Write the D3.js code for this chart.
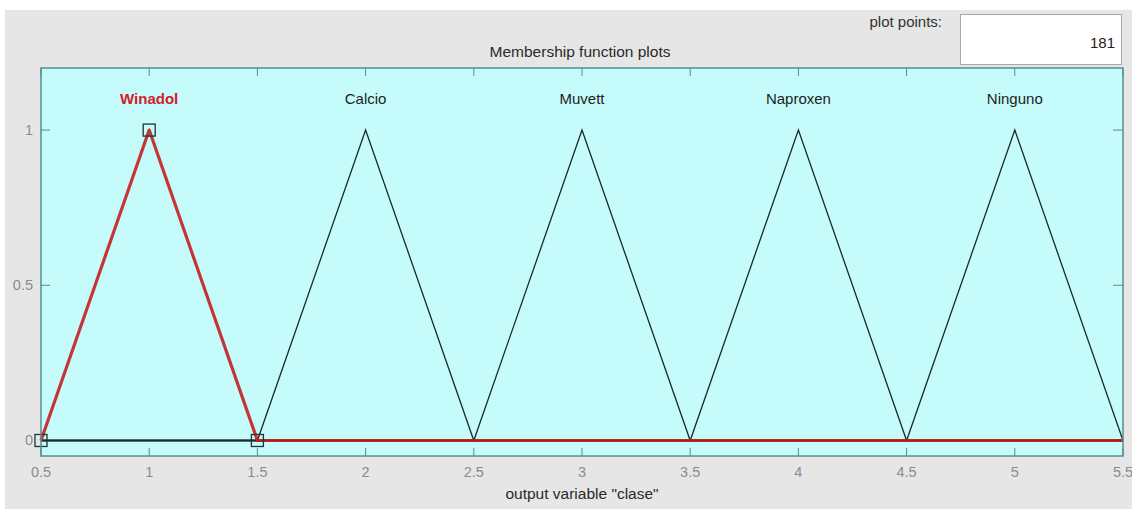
<!DOCTYPE html>
<html>
<head>
<meta charset="utf-8">
<script src="https://cdn.jsdelivr.net/npm/d3@7"></script>
<style>
  html, body { margin: 0; padding: 0; background: #fff; }
  svg { display: block; font-family: Arial, "Liberation Sans", sans-serif; }
</style>
</head>
<body>
<svg id="chart" width="1132" height="509"></svg>
<script>
// membership functions of output variable "clase" (trimf params)
const mfNames = ['Winadol', 'Calcio', 'Muvett', 'Naproxen', 'Ninguno'];
const mfParams = [[0.5, 1, 1.5], [1.5, 2, 2.5], [2.5, 3, 3.5], [3.5, 4, 4.5], [4.5, 5, 5.5]];
const selected = 0;
const xRange = [0.5, 5.5];
const yRange = [-0.05, 1.2];
const xTicks = [0.5, 1, 1.5, 2, 2.5, 3, 3.5, 4, 4.5, 5, 5.5];
const xTickLabels = ['0.5', '1', '1.5', '2', '2.5', '3', '3.5', '4', '4.5', '5', '5.5'];
const yTicks = [0, 0.5, 1];
const yTickLabels = ['0', '0.5', '1'];
const plotPoints = 181;

const axL = 41, axR = 1123, axT = 68, axB = 456;

const svg = d3.select('#chart');

// figure background
svg.append('rect')
  .attr('x', 5).attr('y', 10)
  .attr('width', 1127).attr('height', 499)
  .attr('fill', '#e6e6e6');

const x = d3.scaleLinear().domain(xRange).range([axL, axR]);
const y = d3.scaleLinear().domain(yRange).range([axB, axT]);

// plot points box
svg.append('text')
  .attr('x', 942).attr('y', 27)
  .attr('text-anchor', 'end')
  .attr('font-size', 15)
  .attr('fill', '#333')
  .text('plot points:');
svg.append('rect')
  .attr('x', 960.5).attr('y', 14.5)
  .attr('width', 161).attr('height', 50)
  .attr('fill', '#fff')
  .attr('stroke', '#a8a8a8');
svg.append('text')
  .attr('x', 1115).attr('y', 48)
  .attr('text-anchor', 'end')
  .attr('font-size', 15)
  .attr('fill', '#222')
  .text(plotPoints);

// title
svg.append('text')
  .attr('x', (axL + axR) / 2 - 2).attr('y', 57)
  .attr('text-anchor', 'middle')
  .attr('font-size', 15.5)
  .attr('fill', '#2a2a2a')
  .text('Membership function plots');

// axes background
svg.append('rect')
  .attr('x', axL).attr('y', axT)
  .attr('width', axR - axL).attr('height', axB - axT)
  .attr('fill', '#c6fbfb');

const g = svg.append('g');

// ticks (inside)
const tickColor = '#5a8c8c';
g.selectAll('line.xb').data(xTicks).enter().append('line')
  .attr('x1', d => x(d)).attr('x2', d => x(d))
  .attr('y1', axB).attr('y2', axB - 8)
  .attr('stroke', tickColor);
g.selectAll('line.xt').data(xTicks).enter().append('line')
  .attr('x1', d => x(d)).attr('x2', d => x(d))
  .attr('y1', axT).attr('y2', axT + 8)
  .attr('stroke', tickColor);
g.selectAll('line.yl').data(yTicks).enter().append('line')
  .attr('x1', axL).attr('x2', axL + 9)
  .attr('y1', d => y(d)).attr('y2', d => y(d))
  .attr('stroke', tickColor);
g.selectAll('line.yr').data(yTicks).enter().append('line')
  .attr('x1', axR).attr('x2', axR - 10)
  .attr('y1', d => y(d)).attr('y2', d => y(d))
  .attr('stroke', tickColor);

// tick labels
g.selectAll('text.xl').data(xTicks).enter().append('text')
  .attr('x', d => x(d)).attr('y', 477)
  .attr('text-anchor', 'middle')
  .attr('font-size', 14.5)
  .attr('fill', '#8c8c8c')
  .text((d, i) => xTickLabels[i]);
g.selectAll('text.yl').data(yTicks).enter().append('text')
  .attr('x', 33).attr('y', d => y(d) + 5)
  .attr('text-anchor', 'end')
  .attr('font-size', 14.5)
  .attr('fill', '#8c8c8c')
  .text((d, i) => yTickLabels[i]);

// x label
svg.append('text')
  .attr('x', (axL + axR) / 2).attr('y', 499)
  .attr('text-anchor', 'middle')
  .attr('font-size', 15.5)
  .attr('fill', '#2a2a2a')
  .text('output variable "clase"');

// membership function polylines across the whole range
function mfLine(p) {
  return [[xRange[0], 0], [p[0], 0], [p[1], 1], [p[2], 0], [xRange[1], 0]];
}
const line = d3.line().x(d => x(d[0])).y(d => y(d[1]));

mfParams.forEach((p, i) => {
  if (i === selected) return;
  g.append('path')
    .attr('d', line(mfLine(p)))
    .attr('fill', 'none')
    .attr('stroke', '#1c2a2a')
    .attr('stroke-width', 1.3);
});

// selected one: thick red, a bit see-through so the shared zero line reads dark red
g.append('path')
  .attr('d', line(mfLine(mfParams[selected])))
  .attr('fill', 'none')
  .attr('stroke', '#c41a1a')
  .attr('stroke-opacity', 0.88)
  .attr('stroke-width', 3.2)
  .attr('stroke-linejoin', 'round');

// vertex markers of the selected mf
const sel = mfParams[selected];
g.selectAll('rect.mk').data([[sel[0], 0], [sel[1], 1], [sel[2], 0]]).enter().append('rect')
  .attr('x', d => x(d[0]) - 6).attr('y', d => y(d[1]) - 6)
  .attr('width', 12).attr('height', 12)
  .attr('fill', 'none')
  .attr('stroke', '#1d3535')
  .attr('stroke-width', 1.3);

// mf names
g.selectAll('text.mf').data(mfNames).enter().append('text')
  .attr('x', (d, i) => x(mfParams[i][1]))
  .attr('y', y(1.1) + 5)
  .attr('text-anchor', 'middle')
  .attr('font-size', 15)
  .attr('font-weight', (d, i) => i === selected ? 'bold' : 'normal')
  .attr('fill', (d, i) => i === selected ? '#d0202a' : '#222')
  .text(d => d);

// axes box
svg.append('rect')
  .attr('x', axL).attr('y', axT)
  .attr('width', axR - axL).attr('height', axB - axT)
  .attr('fill', 'none')
  .attr('stroke', '#5a8c8c')
  .attr('stroke-width', 1.5);
</script>
</body>
</html>
